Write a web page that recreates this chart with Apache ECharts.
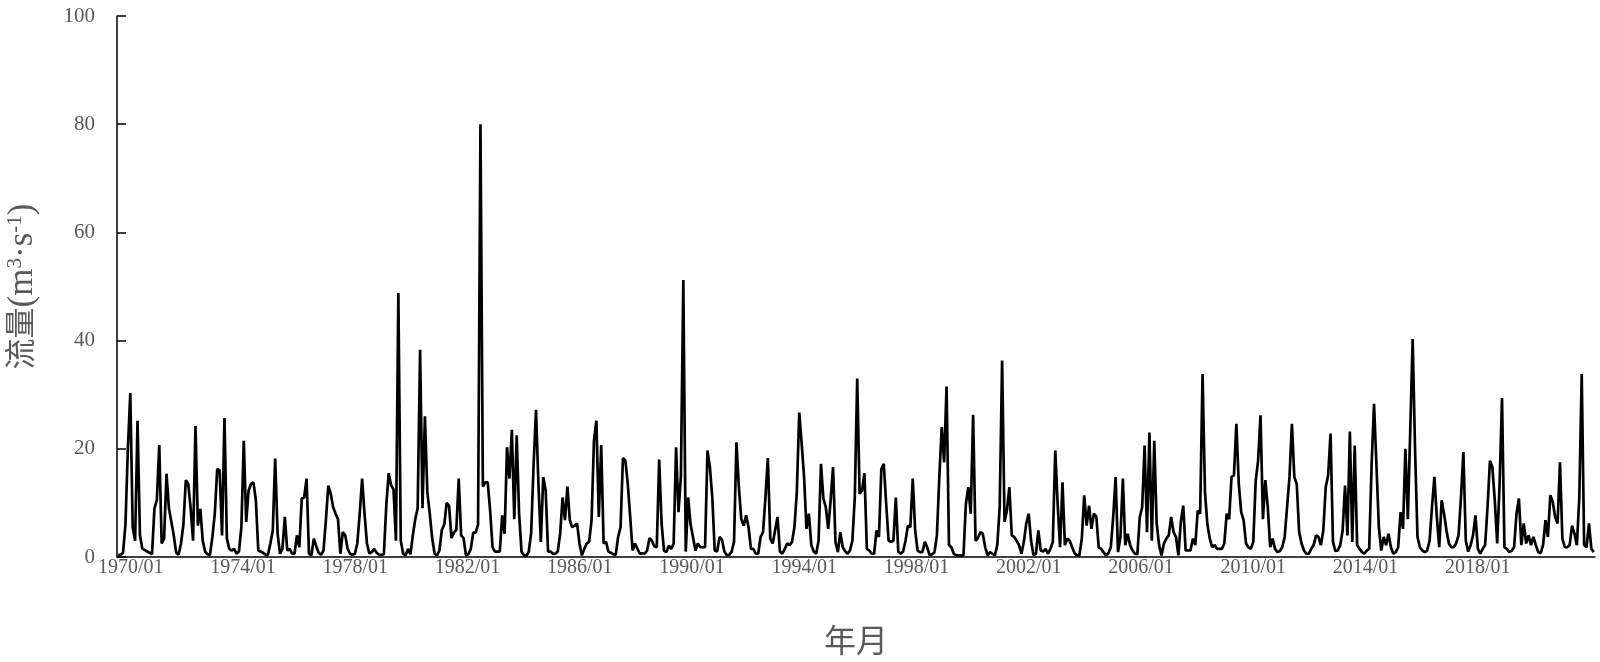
<!DOCTYPE html>
<html>
<head>
<meta charset="utf-8">
<script src="https://cdn.jsdelivr.net/npm/echarts@6/dist/echarts.min.js"></script>
<style>
  html, body { margin: 0; padding: 0; background: #fff; }
  #chart { width: 1600px; height: 662px; }
</style>
</head>
<body>
<div id="chart"></div>
<script>
// monthly flow (m3/s), one row per year
const flow1970s = [
  0.4, 0.4, 0.8, 6, 20, 30.3, 5.5, 3, 25.2, 4, 1.5, 1.3,
  1.0, 0.8, 0.5, 9, 10.5, 20.7, 2.5, 3.4, 15.4, 9, 6.5, 4,
  0.8, 0.4, 2.5, 6, 14.2, 13.5, 9, 3, 24.2, 5.8, 8.9, 3,
  1.0, 0.5, 0.4, 3.7, 8, 16.3, 16, 4, 25.7, 3.4, 1.5, 1.2,
  1.5, 0.6, 1.0, 5.5, 21.5, 6.5, 12.3, 13.5, 13.8, 10.5, 1.2, 1.0,
  0.8, 0.4, 0.4, 2.5, 4.9, 18.2, 4.3, 0.6, 1.5, 7.4, 1.2, 1.5,
  0.6, 0.6, 4, 1.8, 10.8, 11, 14.5, 0.6, 0.3, 3.4, 2.0, 0.8,
  0.4, 1.2, 6.8, 13.2, 11.7, 9.2, 8, 7, 0.6, 4.6, 4, 1.5,
  0.6, 0.4, 0.6, 2.5, 8, 14.5, 8, 2.5, 0.6, 0.9, 1.5, 0.8,
  0.4, 0.4, 0.5, 9.5, 15.5, 13.2, 12.5, 3, 48.8, 3, 0.6, 0.3
]
const flow1980s = [
  1.5, 0.5, 4, 7, 9, 38.3, 9, 26, 12, 8, 3.5, 0.6,
  0.3, 1.2, 5, 6, 10, 9.5, 3.5, 4.5, 5, 14.5, 4, 3.5,
  0.3, 0.5, 1.5, 4.5, 4.5, 6, 80, 13, 13.8, 13.8, 8.6, 1.8,
  1.0, 1.0, 1.0, 7.7, 4.3, 20.3, 14.5, 23.5, 7, 22.5, 8, 1.0,
  0.3, 0.2, 1.0, 4.5, 17, 27.2, 13.5, 2.8, 14.8, 12.3, 1.0, 1.0,
  0.6, 0.6, 1.0, 4.3, 11, 6.8, 13, 6.8, 5.5, 5.8, 6.2, 2.5,
  0.3, 1.5, 2.5, 2.8, 6.8, 21.5, 25.2, 7.4, 20.7, 2.5, 2.8, 1.0,
  0.8, 0.5, 0.4, 3.7, 5.5, 18.3, 17.8, 13.5, 7.4, 1.2, 2.5, 1.5,
  0.6, 0.7, 0.6, 1.2, 3.5, 3, 2, 1.8, 18, 6.2, 1.2, 0.9,
  2.1, 1.5, 2.5, 20.3, 8.3, 15, 51.2, 1.0, 11, 6, 3.7, 1.2
]
const flow1990s = [
  2.5, 1.8, 1.8, 1.8, 19.7, 16.6, 11, 1.2, 1.0, 3.7, 3.2, 1.0,
  0.3, 0.4, 1.0, 2.8, 21.2, 12.9, 7, 5.8, 7.7, 5.5, 1.5, 1.5,
  0.6, 0.6, 3.7, 4.6, 11, 18.3, 3.4, 2.5, 4.9, 7.4, 1.0, 0.6,
  1.5, 2.5, 2.2, 2.8, 5.5, 12, 26.7, 21, 14.8, 5.2, 8, 2.2,
  1.0, 0.6, 3, 17.2, 10.8, 9.2, 5.2, 10.5, 16.6, 2.8, 0.9, 4.6,
  1.8, 1.1, 0.6, 1.2, 3, 11, 33, 11.7, 12.3, 15.5, 1.5, 1.2,
  0.6, 0.6, 4.9, 3.7, 16.3, 17.2, 9.8, 3, 2.8, 3, 11, 1.0,
  0.6, 1.0, 3, 5.8, 5.5, 14.5, 4.9, 1.2, 0.9, 0.9, 2.8, 1.8,
  0.3, 0.5, 0.9, 4, 14.8, 24, 17.5, 31.5, 2.2, 1.8, 0.6, 0.3,
  0.3, 0.3, 0.3, 9.8, 12.9, 8, 26.3, 3, 3.5, 4.6, 4.3, 1.8
]
const flow2000s = [
  0.3, 0.9, 0.6, 0.3, 2.2, 9.2, 36.3, 6.5, 8.6, 12.9, 4, 3.7,
  3, 2.2, 0.6, 2.8, 6.2, 8, 3, 0.3, 0.6, 4.9, 1.2, 1.0,
  1.5, 0.6, 1.5, 2.8, 19.7, 9.8, 1.8, 13.8, 2.2, 3.4, 3, 1.8,
  0.7, 0.3, 0.3, 3.4, 11.4, 5.8, 9.5, 5.2, 8, 7.5, 1.8, 1.5,
  0.9, 0.3, 0.7, 1.8, 7.4, 14.8, 0.9, 3.7, 14.5, 2.2, 4.3, 2.2,
  1.2, 0.6, 0.5, 7.4, 9.2, 20.6, 4.6, 23, 3, 21.5, 6.2, 2.2,
  0.3, 2.5, 3.4, 4, 7.4, 4.6, 3.7, 0.3, 6.5, 9.5, 1.2, 1.2,
  1.2, 3.4, 2.2, 8.6, 8, 33.8, 12, 6, 3.4, 1.8, 2.2, 1.5,
  1.5, 1.5, 2.5, 8, 7, 14.8, 15.1, 24.6, 13.5, 8.3, 6.8, 2.5,
  1.8, 1.5, 2.8, 14, 17.8, 26.2, 7, 14.2, 9.2, 1.8, 3.4, 1.5
]
const flow2010s = [
  0.9, 1.1, 1.8, 3.7, 9.2, 14.8, 24.6, 14.8, 13.5, 4.6, 2.5, 1.2,
  0.6, 0.6, 1.5, 2.2, 4, 3.7, 2.2, 4.9, 12.9, 15.1, 22.8, 2.8,
  1.1, 1.2, 2.2, 4.9, 13.2, 4, 23.2, 2.8, 20.6, 2.2, 1.5, 0.9,
  0.6, 1.2, 1.5, 17, 28.3, 17, 5.5, 1.2, 3.7, 2.2, 4.3, 1.8,
  0.6, 0.9, 1.8, 8.3, 5.2, 20, 7, 23.4, 40.3, 19.7, 3.7, 1.8,
  1.2, 0.9, 1.2, 3, 9.2, 14.8, 7.4, 1.8, 10.5, 8, 4.9, 2.5,
  1.8, 1.8, 2.5, 4, 11, 19.4, 3, 1.0, 2.2, 4, 7.7, 1.5,
  0.6, 1.5, 2.2, 9.2, 17.8, 16.6, 10.5, 2.5, 13.5, 29.4, 1.8, 1.5,
  0.9, 1.2, 1.8, 8, 10.8, 2.2, 6.2, 2.5, 4, 2.2, 3.7, 2.2,
  0.9, 0.7, 2.2, 6.8, 3.7, 11.4, 10.2, 7.4, 6.2, 17.5, 3.4, 1.8
]
const flow2020s = [
  1.8, 2.2, 5.8, 4.3, 2.2, 11, 33.8, 2.2, 1.8, 6.2, 1.5, 0.9
]

const startYear = 1970
const endYear = 2020
const yTicks = [0, 20, 40, 60, 80, 100]
const xLabels = ['1970/01', '1974/01', '1978/01', '1982/01', '1986/01', '1990/01', '1994/01',
  '1998/01', '2002/01', '2006/01', '2010/01', '2014/01', '2018/01']

const flow = [...flow1970s, ...flow1980s, ...flow1990s, ...flow2000s, ...flow2010s, ...flow2020s]
const months = []
for (let y = startYear; y <= endYear; y++) {
  for (let m = 1; m <= 12; m++) {
    months.push(y + '/' + String(m).padStart(2, '0'))
  }
}

const serif = '"Times New Roman", "Liberation Serif", "Noto Sans CJK SC", serif'
const grey = '#595959'

const chart = echarts.init(document.getElementById('chart'))

const option = {
  animation: false,
  backgroundColor: '#fff',
  grid: {
    left: 117,
    right: 5,
    top: 16,
    bottom: 105,
    outerBoundsMode: 'none'
  },
  xAxis: [
    {
      type: 'category',
      data: months,
      boundaryGap: true,
      name: '年月',
      nameLocation: 'middle',
      nameGap: 71,
      nameTextStyle: { fontFamily: serif, fontSize: 32, color: grey },
      axisLine: { onZero: false, lineStyle: { color: '#000', width: 1.5 } },
      axisTick: { inside: true, length: 5, interval: 23, lineStyle: { color: '#000', width: 1.5 } },
      axisLabel: { show: false },
      splitLine: { show: false }
    },
    {
      // label row, spaced the way the original axis spreads them
      type: 'value',
      position: 'bottom',
      min: -0.122,
      max: 13.045,
      axisLine: { show: false, onZero: false },
      axisTick: { show: false },
      splitLine: { show: false },
      axisLabel: {
        customValues: xLabels.map((_, i) => i),
        formatter: (v) => xLabels[Math.round(v)] || '',
        margin: 1,
        fontFamily: serif,
        fontSize: 20,
        color: grey
      }
    }
  ],
  yAxis: {
    type: 'value',
    min: yTicks[0],
    max: yTicks[yTicks.length - 1],
    interval: 20,
    name: '{c|流量}{t|(m}{sup|3}{t|·s}{sup|-1}{t|)}',
    nameLocation: 'middle',
    nameGap: 76,
    nameRotate: 90,
    nameTextStyle: {
      fontFamily: serif,
      fontSize: 31,
      color: grey,
      rich: {
        c: { fontFamily: serif, fontSize: 31, color: grey },
        t: { fontFamily: serif, fontSize: 35, color: grey },
        sup: { fontFamily: serif, fontSize: 21, color: grey, verticalAlign: 'top', padding: [0, 0, 15, 0] }
      }
    },
    axisLine: { show: true, onZero: false, lineStyle: { color: '#000', width: 1.5 } },
    axisTick: { show: true, inside: true, length: 9, lineStyle: { color: '#000', width: 1.5 } },
    axisLabel: {
      margin: 22,
      fontFamily: serif,
      fontSize: 21,
      color: grey
    },
    splitLine: { show: false }
  },
  series: [
    {
      type: 'line',
      xAxisIndex: 0,
      data: flow,
      showSymbol: false,
      lineStyle: { color: '#000', width: 2.7 },
      itemStyle: { color: '#000' }
    }
  ]
}

chart.setOption(option)
</script>
</body>
</html>
